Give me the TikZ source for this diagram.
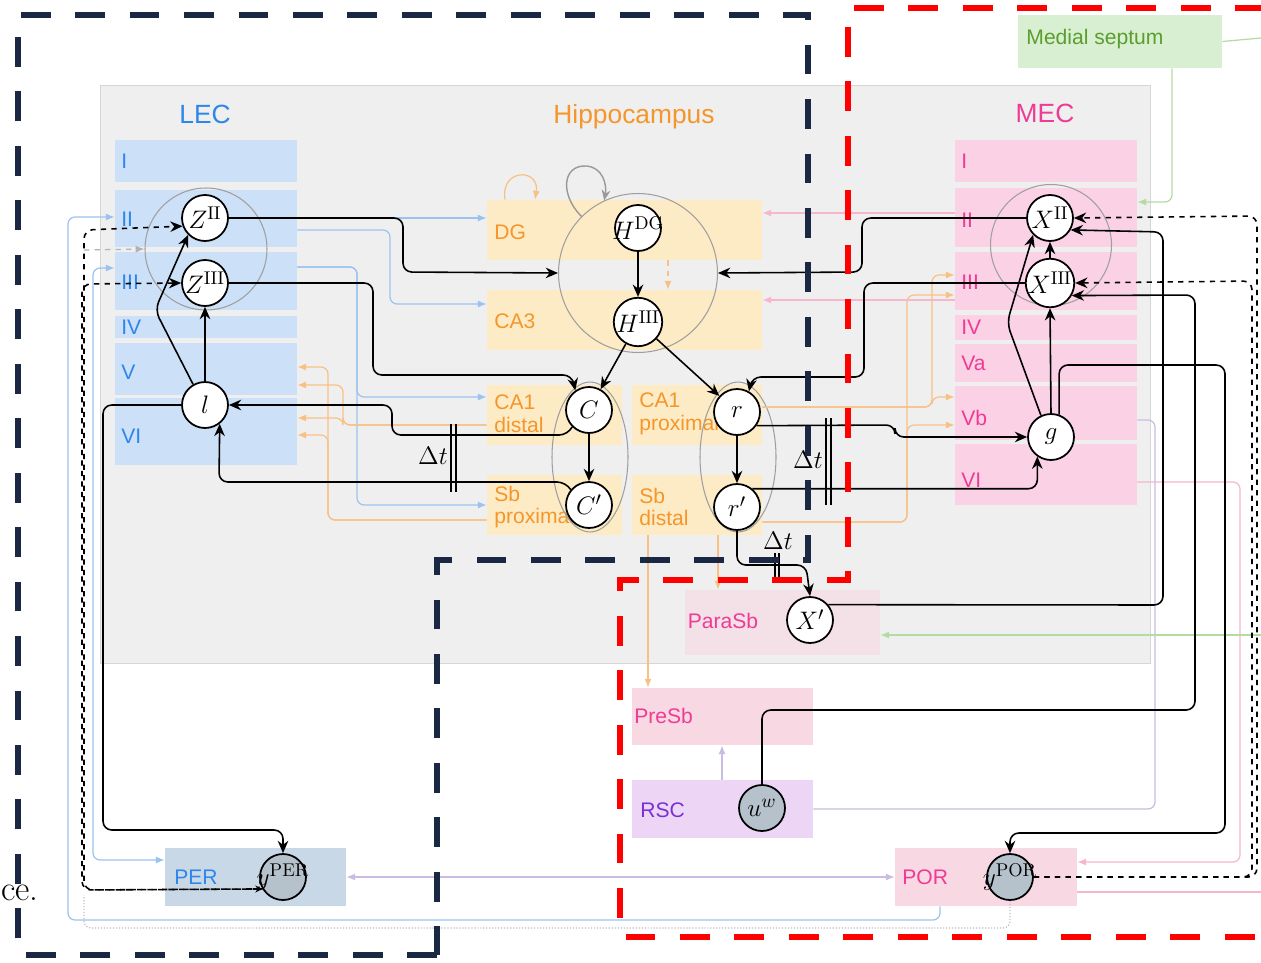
\documentclass[tikz,border=0pt]{standalone}
\usepackage{fontspec}
\newfontfamily\sansf{Liberation Sans}
\usetikzlibrary{arrows.meta, shapes.geometric}

\definecolor{bgfill}{HTML}{EFEFEF}
\definecolor{bgline}{HTML}{D6D6D6}
\definecolor{lecfill}{HTML}{CCE0F7}
\definecolor{lectext}{HTML}{2F86EA}
\definecolor{hipfill}{HTML}{FDEBC6}
\definecolor{hiptext}{HTML}{F5962A}
\definecolor{mecfill}{HTML}{FBD1E5}
\definecolor{mectext}{HTML}{EE3C96}
\definecolor{septfill}{HTML}{D8EFD2}
\definecolor{septtext}{HTML}{5B9E2E}
\definecolor{perfill}{HTML}{C9D8E7}
\definecolor{porfill}{HTML}{F8D8E2}
\definecolor{rscfill}{HTML}{EDD6F5}
\definecolor{rsctext}{HTML}{7A30D2}
\definecolor{obsgray}{HTML}{B5C2CB}
\definecolor{navy}{HTML}{1B2844}
\definecolor{bluel}{HTML}{9CC3F0}
\definecolor{orangel}{HTML}{F9C084}
\definecolor{pinkl}{HTML}{F6B6CE}
\definecolor{purpl}{HTML}{C9BCE3}
\definecolor{greenl}{HTML}{B5DCA0}

\begin{document}
\begin{tikzpicture}[x=0.02cm, y=-0.02cm]

\tikzset{vertex/.style = {shape=circle, draw, line width=1pt, fill=white, minimum size=0.92cm, inner sep=0pt, font=\fontsize{15}{15}\selectfont}}
\tikzset{obsvertex/.style = {vertex, fill=obsgray}}
\tikzset{group/.style = {shape=circle, draw=gray!75, line width=0.6pt, inner sep=0pt}}
\tikzset{edge/.style = {->, > = {Stealth[length=7pt, width=6pt]}, line width=0.9pt, rounded corners=5pt}}
\tikzset{dedge/.style = {edge, dashed}}
\tikzset{faint/.style = {line width=0.7pt, rounded corners=4pt, -{Latex[length=5pt, width=4pt]}}}
\tikzset{faint2/.style = {faint, {Latex[length=5pt, width=4pt]}-{Latex[length=5pt, width=4pt]}}}
\tikzset{lec/.style = {rectangle, fill=lecfill, minimum width=3.64cm, inner sep=0pt}}
\tikzset{mec/.style = {rectangle, fill=mecfill, minimum width=3.64cm, inner sep=0pt}}
\tikzset{hip/.style = {rectangle, fill=hipfill, minimum height=1.2cm, inner sep=0pt}}
\tikzset{area/.style = {rectangle, minimum width=3.62cm, minimum height=1.16cm, inner sep=0pt}}
\tikzset{lectxt/.style = {text=lectext, font=\sansf\fontsize{12}{13}\selectfont, anchor=west, inner sep=0pt}}
\tikzset{mectxt/.style = {lectxt, text=mectext}}
\tikzset{hiptxt/.style = {lectxt, text=hiptext, align=left}}
\tikzset{title/.style = {font=\sansf\fontsize{15}{15}\selectfont, inner sep=0pt}}
\tikzset{dt/.style = {font=\fontsize{15}{15}\selectfont, inner sep=0pt}}
\tikzset{bound/.style = {line width=3.5pt, dash pattern=on 17pt off 14pt}}

\fill[white] (0,0) rectangle (1261,963);
\useasboundingbox (0,0) rectangle (1261,963);
\draw[draw=bgline, fill=bgfill] (100,85) rectangle (1150,663);

%regions
\node[lec, minimum height=0.84cm] (lecI) at (206,161) {};
\node[lec, minimum height=1.14cm] (lecII) at (206,218.5) {};
\node[lec, minimum height=1.16cm] (lecIII) at (206,281) {};
\node[lec, minimum height=0.44cm] (lecIV) at (206,327) {};
\node[lec, minimum height=1.04cm] (lecV) at (206,369) {};
\node[lec, minimum height=1.34cm] (lecVI) at (206,431.5) {};

\node[mec, minimum height=0.84cm] (mecI) at (1046,161) {};
\node[mec, minimum height=1.18cm] (mecII) at (1046,217.5) {};
\node[mec, minimum height=1.16cm] (mecIII) at (1046,281) {};
\node[mec, minimum height=0.5cm] (mecIV) at (1046,327.5) {};
\node[mec, minimum height=0.76cm] (mecVa) at (1046,363) {};
\node[mec, minimum height=1.08cm] (mecVb) at (1046,413) {};
\node[mec, minimum height=1.22cm] (mecVI) at (1046,474.5) {};

\node[hip, minimum width=5.5cm] (dg) at (624.5,230) {};
\node[hip, minimum width=5.5cm] (ca3) at (624.5,320) {};
\node[hip, minimum width=2.7cm] (ca1d) at (554.5,415) {};
\node[hip, minimum width=2.6cm] (ca1p) at (697,415) {};
\node[hip, minimum width=2.7cm] (sbp) at (554.5,505) {};
\node[hip, minimum width=2.6cm] (sbd) at (697,505) {};

\node[area, fill=porfill, opacity=0.6, minimum width=3.9cm, minimum height=1.3cm] (parasb) at (782.5,622.5) {};
\node[area, fill=porfill, minimum height=1.14cm] (presb) at (722.5,716.5) {};
\node[area, fill=rscfill] (rsc) at (722.5,809) {};
\node[area, fill=perfill] (per) at (255.5,877) {};
\node[area, fill=porfill, minimum width=3.64cm] (por) at (986,877) {};
\node[area, fill=septfill, minimum width=4.08cm, minimum height=1.06cm] (septum) at (1120,41.5) {};

%labels
\node[title, text=lectext] (tlec) at (205,114) {LEC};
\node[title, text=hiptext] (thip) at (634,117) {Hippocampus};
\node[title, text=mectext] (tmec) at (1045,113) {MEC};
\node[lectxt] (llI) at (121,161) {I};
\node[lectxt] (llII) at (121,219) {II};
\node[lectxt] (llIII) at (121,282) {III};
\node[lectxt] (llIV) at (121,327) {IV};
\node[lectxt] (llV) at (121,372) {V};
\node[lectxt] (llVI) at (121,436) {VI};
\node[mectxt] (lmI) at (961,161) {I};
\node[mectxt] (lmII) at (961,220) {II};
\node[mectxt] (lmIII) at (961,282) {III};
\node[mectxt] (lmIV) at (961,327) {IV};
\node[mectxt] (lmVa) at (961,363) {Va};
\node[mectxt] (lmVb) at (961,418) {Vb};
\node[mectxt] (lmVI) at (961,480) {VI};
\node[hiptxt] (ldg) at (494,232) {DG};
\node[hiptxt] (lca3) at (494,321) {CA3};
\node[hiptxt] (lca1d) at (494,414) {CA1\\distal};
\node[hiptxt] (lca1p) at (639,414) {CA1\\proximal};
\node[hiptxt] (lsbp) at (494,507) {Sb\\proximal};
\node[hiptxt] (lsbd) at (639,507) {Sb\\distal};
\node[mectxt, anchor=center] (lparasb) at (723,621) {ParaSb};
\node[mectxt] (lpresb) at (634,716) {PreSb};
\node[mectxt, text=rsctext] (lrsc) at (640,810) {RSC};
\node[lectxt] (lper) at (174,877) {PER};
\node[mectxt] (lpor) at (902,877) {POR};
\node[lectxt, text=septtext, anchor=center] (lsept) at (1095,39) {Medial septum};
\node[anchor=east, inner sep=0pt, font=\fontsize{20}{20}\selectfont] (tail) at (39,893) {ce.};

%groups
\node[group, minimum size=2.44cm] (lecgrp) at (206,249) {};
\node[group, minimum size=3.18cm] (hippo) at (638,273) {};
\node[group, minimum size=2.42cm] (mecgrp) at (1051,245) {};
\node[group, shape=ellipse, minimum width=1.52cm, minimum height=3cm] (cgrp) at (590,457) {};
\node[group, shape=ellipse, minimum width=1.52cm, minimum height=3cm] (rgrp) at (738,457) {};

%verticies
\node[vertex] (zII) at (205,218) {$Z^{\mathrm{II}}$};
\node[vertex] (zIII) at (205,283) {$Z^{\mathrm{III}}$};
\node[vertex] (l) at (205,405) {$l$};
\node[vertex] (hDG) at (638,228) {\makebox[0pt]{$H^{\mathrm{DG}}$}};
\node[vertex] (hIII) at (638,322) {$H^{\mathrm{III}}$};
\node[vertex] (c) at (589,410) {$C$};
\node[vertex] (cp) at (589,505) {$C'$};
\node[vertex] (r) at (737,412) {$r$};
\node[vertex] (rp) at (737,507) {$r'$};
\node[vertex] (xII) at (1050,218) {$X^{\mathrm{II}}$};
\node[vertex] (xIII) at (1050,283) {$X^{\mathrm{III}}$};
\node[vertex] (g) at (1051,437) {$g$};
\node[vertex] (xp) at (810,620) {$X'$};
\node[obsvertex] (uw) at (762,808) {$u^{w}$};
\node[obsvertex] (yPER) at (283,877) {\makebox[0pt]{$y^{\mathrm{PER}}$}};
\node[obsvertex] (yPOR) at (1010,877) {\makebox[0pt]{$y^{\mathrm{POR}}$}};

%faint projections
\draw[faint, bluel] (lecII.east |- 0,218) -- (dg.west |- 0,218);
\draw[faint, bluel] (lecII.east |- 0,230) -- (390,230) -- (390,304) -- (ca3.west |- 0,304);
\draw[faint, bluel] (lecIII.east |- 0,267) -- (357,267) -- (357,505) -- (sbp.west |- 0,505);
\draw[faint, bluel] (lecIII.east |- 0,267) -- (357,267) -- (357,397) -- (ca1d.west |- 0,397);
\draw[faint, bluel] (por.south -| 940,0) -- (940,920) -- (68,920) -- (68,217) -- (lecII.west |- 0,217);
\draw[faint2, bluel] (lecIII.west |- 0,268) -- (93,268) -- (93,860) -- (per.west |- 0,860);
\draw[faint, orangel] (sbp.west |- 0,520) -- (328,520) -- (328,367) -- (lecV.east |- 0,367);
\draw[faint, orangel] (sbp.west |- 0,520) -- (328,520) -- (328,435) -- (lecVI.east |- 0,435);
\draw[faint, orangel] (ca1d.west |- 0,425) -- (343,425) -- (343,385) -- (lecV.east |- 0,385);
\draw[faint, orangel] (ca1d.west |- 0,425) -- (343,425) -- (343,418) -- (lecVI.east |- 0,418);
\draw[faint, orangel] (ca1p.east |- 0,407) -- (932,407) -- (932,275) -- (mecIII.west |- 0,275);
\draw[faint, orangel] (ca1p.east |- 0,407) -- (932,407) -- (932,397) -- (mecVb.west |- 0,397);
\draw[faint, orangel] (sbd.east |- 0,522) -- (907,522) -- (907,295) -- (mecIII.west |- 0,295);
\draw[faint, orangel] (sbd.east |- 0,522) -- (907,522) -- (907,425) -- (mecVb.west |- 0,425);
\draw[faint, orangel] (sbd.south -| 648,0) -- (presb.north -| 648,0);
\draw[faint, orangel] (sbd.south -| 718,0) -- (parasb.north -| 718,0);
\draw[faint, orangel, dashed] (dg.south -| 668,0) -- (ca3.north -| 668,0);
\draw[faint, orangel] (dg.north -| 505,0) .. controls (500,168) and (540,168) .. (dg.north -| 535,0);
\draw[faint, pinkl] (mecII.west |- 0,213) -- (dg.east |- 0,213);
\draw[faint, pinkl] (mecIII.west |- 0,300) -- (ca3.east |- 0,300);
\draw[faint, pinkl] (mecVI.east |- 0,482) -- (1240,482) -- (1240,862) -- (por.east |- 0,862);
\coordinate (pR) at (1261,892);
\draw[faint, pinkl, -] (por.east |- 0,892) -- (pR);
\draw[faint2, purpl] (per.east) -- (por.west);
\draw[faint, purpl] (rsc.north -| 722,0) -- (presb.south -| 722,0);
\draw[faint, purpl, -] (rsc.east) -- (1155,809) -- (1155,420) -- (mecVb.east |- 0,420);
\coordinate (gA) at (1261,38);
\coordinate (gB) at (1261,635);
\draw[faint, greenl, -] (septum.east) -- (gA);
\draw[faint, greenl] (gB) -- (parasb.east |- 0,635);
\draw[faint, greenl] (septum.south -| 1172,0) -- (1172,202) -- (mecII.east |- 0,202);
\coordinate (gd) at (84,895);
\draw[gray!50, densely dotted, line width=0.7pt, rounded corners=4pt] (yPOR.south) -- (1010,928) -- (84,928) -- (gd);
\coordinate (gl) at (84,250);
\draw[faint, gray!60, dashed] (gl) -- (lecgrp.west);
\draw[gray!80, line width=0.8pt, -{Stealth[length=6pt, width=5pt]}] (hippo.135) .. controls (560,195) and (562,165) .. (586,166) .. controls (603,167) and (607,185) .. (hippo.115);

%edges
\draw[edge] (l.120) -- (155,310) -- (zII.225);
\draw[edge] (l) -- (zIII);
\draw[edge] (zII.east) -- (403,218) -- (403,272) -- (hippo.west);
\draw[edge] (zIII.east) -- (373,283) -- (373,375) -- (572,375) -- (c.125);
\draw[edge] (hDG) -- (hIII);
\draw[edge] (hIII) -- (c);
\draw[edge] (hIII) -- (r);
\draw[edge] (c) -- (cp);
\draw[edge] (r) -- (rp);
\draw[edge] (c.225) -- (568,435) -- (392,435) -- (392,405) -- (l.east);
\draw[edge] (cp.140) -- (566,482) -- (219,482) -- (l.-52);
\draw[edge] (r.-35) -- (895,425) -- (895,437) -- (g.west);
\draw[edge] (rp.50) -- (rp.50 -| g.235) -- (g.235);
\draw[edge] (rp.south) -- (737,565) -- (806,565) -- (xp.north);
\draw[edge] (xII.west) -- (862,218) -- (862,272) -- (hippo.east);
\draw[edge] (xIII.west) -- (864,283) -- (864,377) -- (752,377) -- (r.60);
\draw[edge] (g.115) -- (1007,323) -- (xII.225);
\draw[edge] (g.north) -- (xIII.south);
\draw[edge] (xIII) -- (xII);
\draw[edge] (g.70) -- (g.70 |- 0,365) -- (1225,365) -- (1225,833) -- (1010,833) -- (yPOR.north);
\draw[edge] (xp.40) -- (1163,605) -- (1163,232) -- (xII.-30);
\draw[edge] (uw.north) -- (762,710) -- (1195,710) -- (1195,295) -- (xIII.-30);
\draw[edge] (l.west) -- (103,405) -- (103,830) -- (283,830) -- (yPER.north);
\draw[dedge, {Stealth[length=4pt, width=4pt]}-{Stealth[length=7pt, width=6pt]}] (yPER.210) -- (84,890) -- (84,230) -- (zII.200);
\draw[dedge] (yPER.210) -- (82,890) -- (82,284) -- (zIII.west);
\draw[dedge] (yPOR.east) -- (1257,877) -- (1257,216) -- (xII.east);
\draw[dedge] (yPOR.east) -- (1252,877) -- (1252,281) -- (xIII.east);

%delays
\node[dt] (dt1) at (433,456) {$\Delta t$};
\draw[line width=0.9pt] (451,424) -- (451,492) (456,424) -- (456,492);
\node[dt] (dt2) at (808,460) {$\Delta t$};
\draw[line width=0.9pt] (826,418) -- (826,505) (831,418) -- (831,505);
\node[dt] (dt3) at (778,541) {$\Delta t$};
\draw[line width=0.9pt] (775,553) -- (775,577) (779,553) -- (779,577);

%boundaries
\draw[bound, navy] (437,955) -- (18,955) -- (18,15) -- (808,15) -- (808,560) -- (437,560) -- cycle;
\draw[bound, red] (1265,8) -- (848,8) -- (848,580) -- (620,580) -- (620,937) -- (1265,937);

\end{tikzpicture}
\end{document}
